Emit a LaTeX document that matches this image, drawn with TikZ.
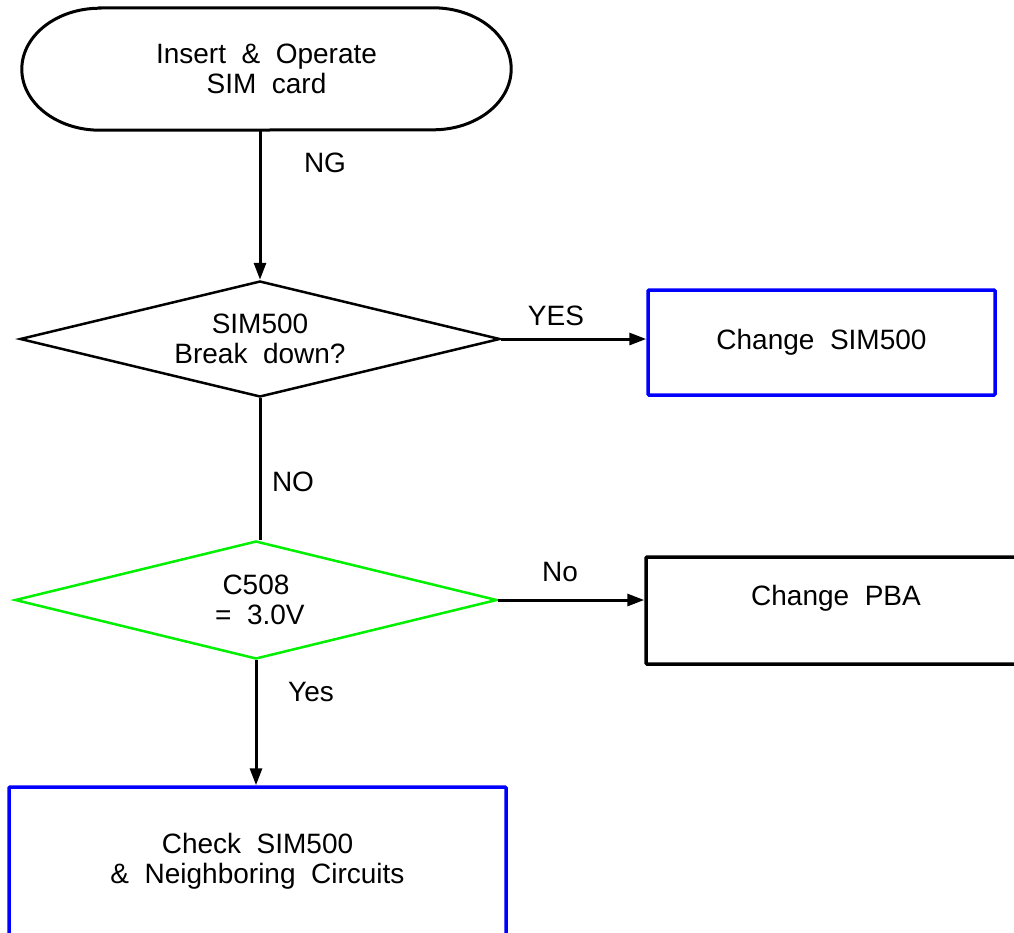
\documentclass[tikz,border=0pt]{standalone}
\usepackage{fontspec}
\setmainfont{Liberation Sans}
\usetikzlibrary{shapes.geometric,arrows.meta}
\tikzset{
  every node/.style={font=\fontsize{28}{30}\selectfont, align=center, inner sep=0pt},
  conn/.style={line width=3pt},
  arr/.style={conn, -{Triangle[length=17pt,width=12pt]}},
  bluebox/.style={draw=blue, line width=3.5pt, rectangle, rounded corners=1pt},
  blackbox/.style={draw=black, line width=3.5pt, rectangle, rounded corners=1pt},
  decision/.style={diamond, draw, line width=2.5pt, inner sep=0pt, aspect=4.14},
  lbl/.style={}
}
\begin{document}
\begin{tikzpicture}[x=1pt,y=-1pt]
\clip (0,0) rectangle (1014,932);
\fill[white] (0,0) rectangle (1014,932);
% terminal
\node[minimum width=489pt, minimum height=122pt] (term) at (266.5,69) {Insert~~\&~~Operate\\SIM~~card};
\draw[line width=3pt] ([xshift=78pt]term.north west) -- ([xshift=-78pt]term.north east)
  arc[start angle=90,end angle=-90,x radius=78pt,y radius=61pt]
  -- ([xshift=78pt]term.south west)
  arc[start angle=270,end angle=90,x radius=78pt,y radius=61pt] -- cycle;
% decisions
\node[decision, minimum width=480pt, minimum height=116pt] (d1) at (260,339) {SIM500\\Break~~down?};
\node[decision, draw={rgb,255:red,0;green,240;blue,0}, minimum width=482pt, minimum height=118pt] (d2) at (256,600) {C508\\~=~~3.0V};
% boxes
\node[bluebox, minimum width=347pt, minimum height=105pt] (sim) at (821.5,342.5) {Change~~SIM500};
\node[blackbox, minimum width=380pt, minimum height=107pt] (pba) at (836,610.5) {};
\node (pbatext) at (836,598) {Change~~PBA};
\node[bluebox, minimum width=497pt, minimum height=149pt] (chk) at (257.5,861.5) {Check~~SIM500\\\&~~Neighboring~~Circuits};
% connectors
\draw[arr] (d1.north |- term.south) -- (d1.north);
\draw[arr] (d1.east) -- (d1.east -| sim.west);
\draw[conn] (d1.south) -- (d1.south |- d2.north);
\draw[arr] (d2.east) -- (d2.east -| pba.west);
\draw[arr] (d2.south) -- (d2.south |- chk.north);
% labels
\node[lbl] (lng) at (325,163) {NG};
\node[lbl] (lyes) at (556,316) {YES};
\node[lbl] (lno) at (293,482) {NO};
\node[lbl] (lno2) at (560,572) {No};
\node[lbl] (lyes2) at (311,692) {Yes};
\end{tikzpicture}
\end{document}
